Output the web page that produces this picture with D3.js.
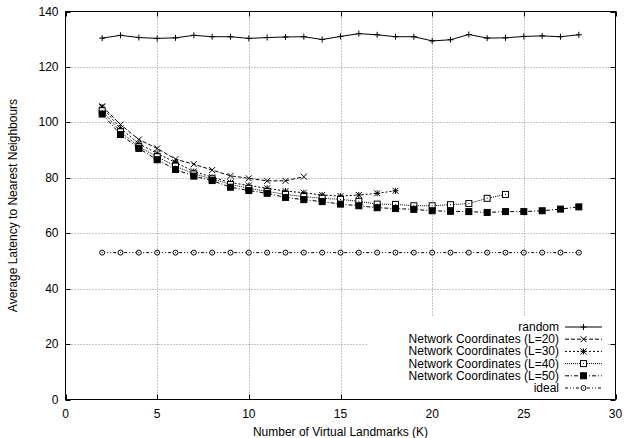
<!DOCTYPE html>
<html>
<head>
<meta charset="utf-8">
<script src="https://cdn.jsdelivr.net/npm/d3@7"></script>
<style>
  body { margin: 0; background: #fff; }
  text { font-family: "Liberation Sans", Arial, sans-serif; font-size: 12px; fill: #000; }
</style>
</head>
<body>
<div id="chart"></div>
<script>
// Data
const kRandom = d3.range(2, 29);
const random = [130.4, 131.4, 130.6, 130.3, 130.5, 131.4, 130.9, 130.9, 130.3, 130.6, 130.8, 130.9, 129.9,
  131.0, 132.0, 131.6, 130.9, 130.9, 129.4, 129.8, 131.7, 130.4, 130.5, 131.0, 131.2, 130.9, 131.6];

const kL20 = d3.range(2, 14);
const netL20 = [105.8, 99.2, 93.8, 90.6, 86.7, 84.9, 82.8, 80.7, 79.8, 78.9, 78.9, 80.4];

const kL30 = d3.range(2, 19);
const netL30 = [105.5, 97.8, 92.3, 88.8, 85.5, 82.3, 80.2, 78.3, 77.2, 76.2, 75.2, 74.6, 73.8, 73.4, 73.8, 74.4, 75.3];

const kL40 = d3.range(2, 25);
const netL40 = [104.2, 96.6, 91.2, 87.6, 84.2, 81.4, 79.6, 77.6, 76.2, 75.1, 74.0, 73.2, 72.6, 72.2, 71.5, 70.5, 70.4,
  69.9, 69.9, 70.3, 70.7, 72.6, 74.0];

const kL50 = d3.range(2, 29);
const netL50 = [103.0, 95.6, 90.6, 86.5, 83.0, 80.6, 79.0, 76.6, 75.4, 74.4, 72.9, 72.1, 71.4, 70.5, 69.9, 69.2, 68.9,
  68.6, 68.1, 67.9, 67.8, 67.5, 67.8, 67.8, 68.1, 68.7, 69.5];

const kIdeal = d3.range(2, 29);
const ideal = kIdeal.map(() => 53);

const xTicks = [0, 5, 10, 15, 20, 25, 30];
const yTicks = [0, 20, 40, 60, 80, 100, 120, 140];

const seriesNames = ["random", "Network Coordinates (L=20)", "Network Coordinates (L=30)",
  "Network Coordinates (L=40)", "Network Coordinates (L=50)", "ideal"];

const series = [
  { name: seriesNames[0], k: kRandom, v: random, dash: null, marker: "plus" },
  { name: seriesNames[1], k: kL20, v: netL20, dash: "4,2", marker: "cross" },
  { name: seriesNames[2], k: kL30, v: netL30, dash: "2,2", marker: "star" },
  { name: seriesNames[3], k: kL40, v: netL40, dash: "1,1", marker: "openSquare" },
  { name: seriesNames[4], k: kL50, v: netL50, dash: "4,2,1,2", marker: "filledSquare" },
  { name: seriesNames[5], k: kIdeal, v: ideal, dash: "3,2,1,2,1,2", marker: "circle" }
];

const W = 626, H = 438;
const plot = { left: 65.5, right: 615.5, top: 11.5, bottom: 399.5 };

const svg = d3.select("#chart").append("svg")
  .attr("width", W)
  .attr("height", H);

const x = d3.scaleLinear().domain([0, 30]).range([plot.left, plot.right]);
const y = d3.scaleLinear().domain([0, 140]).range([plot.bottom, plot.top]);

// Grid
const grid = svg.append("g").attr("stroke", "#888").attr("stroke-dasharray", "1,2").attr("stroke-width", 1);
xTicks.slice(1, -1).forEach(t => {
  grid.append("line").attr("x1", Math.round(x(t)) + 0.5).attr("x2", Math.round(x(t)) + 0.5)
    .attr("y1", plot.top).attr("y2", plot.bottom);
});
yTicks.slice(1, -1).forEach(t => {
  grid.append("line").attr("y1", Math.round(y(t)) + 0.5).attr("y2", Math.round(y(t)) + 0.5)
    .attr("x1", plot.left).attr("x2", plot.right);
});

// Axes (ticks inward, mirrored)
const tickLen = 5;
const axisG = svg.append("g").attr("stroke", "#000").attr("stroke-width", 1);
xTicks.forEach(t => {
  const px = Math.round(x(t)) + 0.5;
  axisG.append("line").attr("x1", px).attr("x2", px).attr("y1", plot.bottom).attr("y2", plot.bottom - tickLen);
  axisG.append("line").attr("x1", px).attr("x2", px).attr("y1", plot.top).attr("y2", plot.top + tickLen);
});
yTicks.forEach(t => {
  const py = Math.round(y(t)) + 0.5;
  axisG.append("line").attr("y1", py).attr("y2", py).attr("x1", plot.left).attr("x2", plot.left + tickLen);
  axisG.append("line").attr("y1", py).attr("y2", py).attr("x1", plot.right).attr("x2", plot.right - tickLen);
});

svg.append("g").selectAll("text").data(xTicks).enter().append("text")
  .attr("x", d => x(d))
  .attr("y", 418)
  .attr("text-anchor", "middle")
  .text(d => d);

svg.append("g").selectAll("text").data(yTicks).enter().append("text")
  .attr("x", 58.5)
  .attr("y", d => y(d) + 4)
  .attr("text-anchor", "end")
  .text(d => d);

svg.append("text")
  .attr("x", (plot.left + plot.right) / 2)
  .attr("y", 436)
  .attr("text-anchor", "middle")
  .text("Number of Virtual Landmarks (K)");

svg.append("text")
  .attr("transform", `translate(17,${(plot.top + plot.bottom) / 2}) rotate(-90)`)
  .attr("text-anchor", "middle")
  .text("Average Latency to Nearest Neighbours");

// Marker drawing
function drawMarker(g, type, cx, cy) {
  const s = 3;
  if (type === "plus") {
    g.append("path").attr("d", `M${cx - s},${cy}H${cx + s}M${cx},${cy - s}V${cy + s}`)
      .attr("stroke", "#000").attr("fill", "none");
  } else if (type === "cross") {
    g.append("path").attr("d", `M${cx - s},${cy - s}L${cx + s},${cy + s}M${cx - s},${cy + s}L${cx + s},${cy - s}`)
      .attr("stroke", "#000").attr("fill", "none");
  } else if (type === "star") {
    g.append("path").attr("d", `M${cx - s},${cy}H${cx + s}M${cx},${cy - s}V${cy + s}` +
      `M${cx - s},${cy - s}L${cx + s},${cy + s}M${cx - s},${cy + s}L${cx + s},${cy - s}`)
      .attr("stroke", "#000").attr("fill", "none");
  } else if (type === "openSquare") {
    g.append("rect").attr("x", cx - s).attr("y", cy - s).attr("width", 2 * s).attr("height", 2 * s)
      .attr("stroke", "#000").attr("fill", "#fff");
    g.append("rect").attr("x", cx - 0.5).attr("y", cy - 0.5).attr("width", 1).attr("height", 1).attr("fill", "#000");
  } else if (type === "filledSquare") {
    g.append("rect").attr("x", cx - s).attr("y", cy - s).attr("width", 2 * s).attr("height", 2 * s)
      .attr("stroke", "#000").attr("fill", "#000");
  } else if (type === "circle") {
    g.append("circle").attr("cx", cx).attr("cy", cy).attr("r", 2.5)
      .attr("stroke", "#000").attr("fill", "#fff");
    g.append("circle").attr("cx", cx).attr("cy", cy).attr("r", 0.6).attr("fill", "#000");
  }
}

const line = d3.line().x(d => x(d[0])).y(d => y(d[1]));

// Series
series.forEach(s => {
  const pts = s.k.map((k, i) => [k, s.v[i]]);
  const g = svg.append("g");
  g.append("path")
    .datum(pts)
    .attr("d", line)
    .attr("fill", "none")
    .attr("stroke", "#000")
    .attr("stroke-width", 1)
    .attr("stroke-dasharray", s.dash);
  pts.forEach(p => drawMarker(g, s.marker, x(p[0]), y(p[1])));
});

// Legend (opaque key box)
svg.append("rect")
  .attr("x", 367).attr("y", 316).attr("width", 241).attr("height", plot.bottom - 316 - 0.5)
  .attr("fill", "#fff");

const legend = svg.append("g");
series.forEach((s, i) => {
  const ly = 327 + i * 12.2;
  legend.append("text")
    .attr("x", 559)
    .attr("y", ly + 4)
    .attr("text-anchor", "end")
    .text(s.name);
  legend.append("line")
    .attr("x1", 565).attr("x2", 602)
    .attr("y1", ly).attr("y2", ly)
    .attr("stroke", "#000")
    .attr("stroke-dasharray", s.dash);
  drawMarker(legend, s.marker, 583.5, ly);
});

// Border
svg.append("rect")
  .attr("x", plot.left).attr("y", plot.top)
  .attr("width", plot.right - plot.left).attr("height", plot.bottom - plot.top)
  .attr("fill", "none").attr("stroke", "#000").attr("stroke-width", 1);
</script>
</body>
</html>
